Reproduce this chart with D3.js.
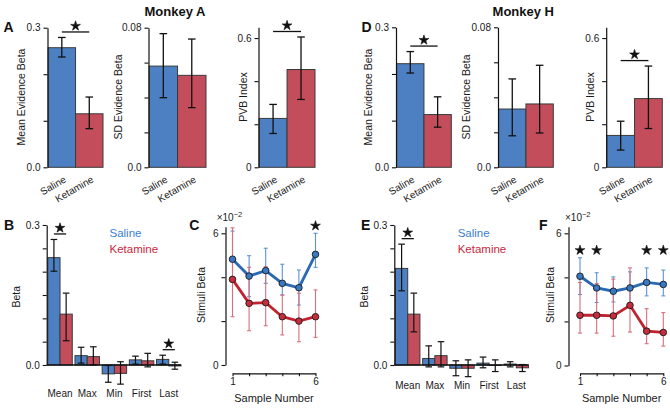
<!DOCTYPE html>
<html>
<head>
<meta charset="utf-8">
<script src="https://cdn.jsdelivr.net/npm/d3@7"></script>
<style>
body { margin: 0; background: #fff; }
text { font-family: "Liberation Sans", Arial, sans-serif; fill: #1a1a1a; }
</style>
</head>
<body>
<div class="container"></div>
<script>
// 数据
var conds = ["Saline", "Ketamine"];

// Monkey A top row
var meanEvA = [0.257, 0.115], meanEvA_lo = [0.237, 0.083], meanEvA_hi = [0.279, 0.151];
var sdEvA = [0.058, 0.0527], sdEvA_lo = [0.0399, 0.0342], sdEvA_hi = [0.0766, 0.0735];
var pvbA = [0.227, 0.454], pvbA_lo = [0.157, 0.315], pvbA_hi = [0.292, 0.605];
var topSigA = [true, false, true];

// Monkey H top row
var meanEvH = [0.222, 0.113], meanEvH_lo = [0.202, 0.086], meanEvH_hi = [0.248, 0.151];
var sdEvH = [0.0333, 0.0362], sdEvH_lo = [0.018, 0.0196], sdEvH_hi = [0.0505, 0.0583];
var pvbH = [0.148, 0.319], pvbH_lo = [0.080, 0.180], pvbH_hi = [0.214, 0.470];
var topSigH = [true, false, true];

// regression terms
var terms = ["Mean", "Max", "Min", "First", "Last"];
var betaA_sal = [0.230, 0.020, -0.019, 0.011, 0.012];
var betaA_sal_lo = [0.201, 0.004, -0.037, 0.002, 0.002];
var betaA_sal_hi = [0.269, 0.038, -0.001, 0.019, 0.021];
var betaA_ket = [0.109, 0.018, -0.018, 0.009, -0.002];
var betaA_ket_lo = [0.052, 0.000, -0.041, -0.004, -0.009];
var betaA_ket_hi = [0.154, 0.039, 0.007, 0.025, 0.006];
var betaSigA = [true, false, false, false, true];

var betaH_sal = [0.207, 0.014, -0.007, 0.004, 0.002];
var betaH_sal_lo = [0.159, -0.004, -0.023, -0.006, -0.004];
var betaH_sal_hi = [0.259, 0.041, 0.009, 0.017, 0.007];
var betaH_ket = [0.109, 0.020, -0.007, -0.001, -0.006];
var betaH_ket_lo = [0.071, -0.004, -0.025, -0.014, -0.014];
var betaH_ket_hi = [0.154, 0.050, 0.011, 0.011, 0.001];
var betaSigH = [true, false, false, false, false];

// stimuli beta (x1e-2)
var samples = [1, 2, 3, 4, 5, 6];
var stimA_sal = [4.82, 4.05, 4.30, 3.72, 3.52, 5.04];
var stimA_sal_lo = [3.85, 3.11, 3.72, 3.19, 2.73, 4.45];
var stimA_sal_hi = [6.10, 4.98, 5.32, 4.59, 4.33, 6.00];
var stimA_ket = [3.90, 2.81, 2.84, 2.20, 2.00, 2.20];
var stimA_ket_lo = [2.20, 1.56, 1.79, 1.37, 1.06, 1.26];
var stimA_ket_hi = [6.25, 4.45, 4.48, 3.19, 3.27, 3.42];
var stimSigA = [false, false, false, false, false, true];

var stimH_sal = [4.05, 3.52, 3.37, 3.52, 3.77, 3.68];
var stimH_sal_lo = [3.22, 2.86, 2.88, 2.81, 3.16, 3.16];
var stimH_sal_hi = [4.89, 4.21, 4.02, 4.25, 4.43, 4.33];
var stimH_ket = [2.28, 2.28, 2.25, 2.73, 1.56, 1.50];
var stimH_ket_lo = [1.47, 1.47, 1.33, 1.52, 0.99, 0.88];
var stimH_ket_hi = [3.77, 3.72, 3.92, 4.43, 2.58, 2.40];
var stimSigH = [true, true, false, false, true, true];

// 颜色
var barFill = ["#4c80c3", "#c44d5b"];
var lineCol = ["#2a69b3", "#c0222f"];
var dotFill = ["#3a78c2", "#c62c3c"];
var errCol = ["#5f92d3", "#da6f7b"];
var legendCol = ["#3a7ed0", "#c9283c"];

var svg = d3.select(".container").append("svg")
            .attr("width", 670).attr("height", 409);

var star = d3.symbol().type(d3.symbolStar).size(30);

function drawStar(x, y) {
  svg.append("path").attr("d", star)
     .attr("transform", "translate(" + x + "," + y + ")")
     .attr("fill", "#111").attr("stroke", "#111").attr("stroke-width", 0.6);
}

function sigBar(xa, xb, y) {
  svg.append("line").attr("x1", xa).attr("x2", xb).attr("y1", y).attr("y2", y)
     .attr("stroke", "#111").attr("stroke-width", 1.3);
  drawStar((xa + xb) / 2, y - 6);
}

function errBar(g, x, y1, y2, cap, col, w) {
  g.append("line").attr("x1", x).attr("x2", x).attr("y1", y1).attr("y2", y2)
   .attr("stroke", col).attr("stroke-width", w);
  [y1, y2].forEach(function(yy) {
    g.append("line").attr("x1", x - cap).attr("x2", x + cap).attr("y1", yy).attr("y2", yy)
     .attr("stroke", col).attr("stroke-width", w);
  });
}

function styleAxis(g) {
  g.select(".domain").attr("stroke", "#111").attr("stroke-width", 1.2);
  g.selectAll(".tick line").attr("stroke", "#111").attr("stroke-width", 1.1);
  g.selectAll(".tick text").attr("font-size", "10px").attr("fill", "#333")
   .style("font-family", "'Liberation Sans', Arial, sans-serif");
}

function ylabel(x, y, txt, size) {
  svg.append("text").attr("transform", "translate(" + x + "," + y + ") rotate(-90)")
     .attr("text-anchor", "middle").attr("dy", "0.35em")
     .attr("font-size", size || "10.5px").text(txt);
}

// 两组柱状图
function barPanel(p) {
  var x = d3.scaleBand().domain(conds).range([p.x0 + 0.6, p.x1]);
  var y = d3.scaleLinear().domain([0, p.ymax]).range([167.3, p.yTop]);
  var g = svg.append("g");
  g.selectAll("rect").data(p.vals).enter().append("rect")
   .attr("x", function(d, i) { return x(conds[i]); })
   .attr("width", x.bandwidth())
   .attr("y", function(d) { return y(d); })
   .attr("height", function(d) { return y(0) - y(d); })
   .attr("fill", function(d, i) { return barFill[i]; })
   .attr("stroke", "#3a3a3a").attr("stroke-width", 1);
  p.vals.forEach(function(d, i) {
    errBar(g, x(conds[i]) + x.bandwidth() / 2, y(p.lo[i]), y(p.hi[i]), 3.8, "#111", 1.3);
  });
  var ax = svg.append("g").attr("transform", "translate(" + p.x0 + ",0)")
    .call(d3.axisLeft(y).tickValues(p.ticks).tickSize(4).tickSizeOuter(0)
      .tickFormat(function(d, i) { return p.tl[i]; }));
  styleAxis(ax);
  conds.forEach(function(c) {
    svg.append("text")
       .attr("transform", "translate(" + (x(c) + x.bandwidth() / 2 + 5) + ",181.5) rotate(-30)")
       .attr("text-anchor", "end").attr("font-size", "10px").text(c);
  });
  ylabel(p.ylx, 97, p.ylab);
  if (p.sig) {
    var c0 = x(conds[0]) + x.bandwidth() / 2, c1 = x(conds[1]) + x.bandwidth() / 2;
    sigBar(c0, c1, y(d3.max(p.hi)) - 5.5);
  }
}

// 分组柱状图
function groupPanel(p) {
  var x = d3.scaleBand().domain(terms).range([p.x0, p.x1]).paddingInner(0.1);
  var xi = d3.scaleBand().domain(conds).range([0, x.bandwidth()]);
  var y = d3.scaleLinear().domain([0, 0.3]).range([365, 225]);
  var g = svg.append("g");
  var series = [[p.sal, p.sal_lo, p.sal_hi], [p.ket, p.ket_lo, p.ket_hi]];
  series.forEach(function(s, k) {
    g.selectAll(".b" + k).data(s[0]).enter().append("rect")
     .attr("x", function(d, i) { return x(terms[i]) + xi(conds[k]); })
     .attr("width", xi.bandwidth())
     .attr("y", function(d) { return y(Math.max(0, d)); })
     .attr("height", function(d) { return Math.abs(y(d) - y(0)); })
     .attr("fill", barFill[k]).attr("stroke", "#3a3a3a").attr("stroke-width", 1);
  });
  g.append("line").attr("x1", p.axisX).attr("x2", p.x1).attr("y1", y(0)).attr("y2", y(0))
   .attr("stroke", "#111").attr("stroke-width", 1.3);
  series.forEach(function(s, k) {
    s[0].forEach(function(d, i) {
      errBar(g, x(terms[i]) + xi(conds[k]) + xi.bandwidth() / 2, y(s[1][i]), y(s[2][i]), 3.3, "#111", 1.2);
    });
  });
  var ax = svg.append("g").attr("transform", "translate(" + p.axisX + ",0)")
    .call(d3.axisLeft(y).tickValues([0, 0.05, 0.1, 0.15, 0.2, 0.25, 0.3]).tickSize(4).tickSizeOuter(0)
      .tickFormat(function(d) { return d === 0 ? "0.0" : (d === 0.3 ? "0.3" : ""); }));
  styleAxis(ax);
  terms.forEach(function(t) {
    svg.append("text").attr("x", x(t) + x.bandwidth() / 2).attr("y", p.labY)
       .attr("text-anchor", "middle").attr("dy", "0.35em").attr("font-size", "10px").text(t);
  });
  p.sig.forEach(function(s, i) {
    if (!s) return;
    var c0 = x(terms[i]) + xi(conds[0]) + xi.bandwidth() / 2;
    var c1 = x(terms[i]) + xi(conds[1]) + xi.bandwidth() / 2;
    sigBar(c0, c1, y(Math.max(p.sal_hi[i], p.ket_hi[i])) - 5.5);
  });
  conds.forEach(function(c, k) {
    svg.append("text").attr("x", p.legX).attr("y", 233.3 + k * 16).attr("dy", "0.35em")
       .attr("font-size", "11.5px").style("fill", legendCol[k]).text(c);
  });
  ylabel(p.ylx, 296.7, "Beta");
}

// 折线图
function linePanel(p) {
  var x = d3.scaleLinear().domain([1, 6]).range([p.xa, p.xb]);
  var unit = (p.y0 - 233.3) / 6;
  var y = d3.scaleLinear().domain([0, 6.3]).range([p.y0, p.y0 - 6.3 * unit]);
  var g = svg.append("g");
  var series = [[p.sal, p.sal_lo, p.sal_hi], [p.ket, p.ket_lo, p.ket_hi]];
  series.forEach(function(s, k) {
    s[0].forEach(function(d, i) {
      errBar(g, x(samples[i]), y(s[1][i]), y(s[2][i]), 2, errCol[k], 1.1);
    });
  });
  var line = d3.line().x(function(d, i) { return x(samples[i]); }).y(function(d) { return y(d); });
  series.forEach(function(s, k) {
    g.append("path").attr("d", line(s[0])).attr("fill", "none")
     .attr("stroke", lineCol[k]).attr("stroke-width", 2.8);
  });
  series.forEach(function(s, k) {
    g.selectAll(".d" + k).data(s[0]).enter().append("circle")
     .attr("cx", function(d, i) { return x(samples[i]); })
     .attr("cy", function(d) { return y(d); })
     .attr("r", 3.3).attr("fill", dotFill[k]).attr("stroke", "#1a1a1a").attr("stroke-width", 0.9);
  });
  var ay = svg.append("g").attr("transform", "translate(" + p.axisX + ",0)")
    .call(d3.axisLeft(y).tickValues([0, 2, 4, 6]).tickSize(4).tickSizeOuter(0)
      .tickFormat(function(d) { return d === 0 || d === 6 ? d : ""; }));
  styleAxis(ay);
  var axb = svg.append("g").attr("transform", "translate(0,373.3)")
    .call(d3.axisBottom(x).tickValues(samples).tickSize(3).tickSizeOuter(0)
      .tickFormat(function(d) { return d === 1 || d === 6 ? d : ""; }));
  styleAxis(axb);
  axb.selectAll(".tick text").attr("dy", "0.6em");
  var tx = svg.append("text").attr("x", p.expX).attr("y", 220.5).attr("font-size", "10px");
  tx.append("tspan").text("×10");
  tx.append("tspan").attr("dy", "-4").attr("font-size", "7.5px").text("−2");
  svg.append("text").attr("x", (p.xa + p.xb) / 2).attr("y", 398.3).attr("dy", "0.35em")
     .attr("text-anchor", "middle").attr("font-size", "11px").text("Sample Number");
  ylabel(p.ylx, 295, "Stimuli Beta");
  var top = 1e9;
  p.sig.forEach(function(s, i) {
    if (s) top = Math.min(top, y(Math.max(p.sal_hi[i], p.ket_hi[i])));
  });
  p.sig.forEach(function(s, i) {
    if (s) drawStar(x(samples[i]), top - 7.5);
  });
}

// 标题与面板字母
[["Monkey A", 175], ["Monkey H", 523.3]].forEach(function(t) {
  svg.append("text").attr("x", t[1]).attr("y", 15.5).attr("text-anchor", "middle")
     .attr("font-size", "13px").attr("font-weight", "bold").style("fill", "#111").text(t[0]);
});
[["A", 3.5, 31.5], ["D", 361.5, 31.5], ["B", 4, 229.5], ["C", 189.3, 229.5], ["E", 361, 229.5], ["F", 539, 229.5]]
  .forEach(function(t) {
    svg.append("text").attr("x", t[1]).attr("y", t[2]).attr("font-size", "14px")
       .attr("font-weight", "bold").style("fill", "#111").text(t[0]);
  });

// 上排
barPanel({x0: 47.5, x1: 103, yTop: 27.7, ymax: 0.3, ticks: [0, 0.1, 0.2, 0.3], tl: ["0.0", "", "", "0.3"],
  vals: meanEvA, lo: meanEvA_lo, hi: meanEvA_hi, sig: topSigA[0], ylab: "Mean Evidence Beta", ylx: 21.7});
barPanel({x0: 148.5, x1: 206, yTop: 27.7, ymax: 0.08, ticks: [0, 0.02, 0.04, 0.06, 0.08], tl: ["0.0", "", "", "", "0.08"],
  vals: sdEvA, lo: sdEvA_lo, hi: sdEvA_hi, sig: topSigA[1], ylab: "SD Evidence Beta", ylx: 118.5});
barPanel({x0: 258.5, x1: 315, yTop: 27.3, ymax: 0.65, ticks: [0, 0.2, 0.4, 0.6], tl: ["0", "", "", "0.6"],
  vals: pvbA, lo: pvbA_lo, hi: pvbA_hi, sig: topSigA[2], ylab: "PVB Index", ylx: 243});
barPanel({x0: 396, x1: 451.3, yTop: 27.3, ymax: 0.3, ticks: [0, 0.1, 0.2, 0.3], tl: ["0.0", "", "", "0.3"],
  vals: meanEvH, lo: meanEvH_lo, hi: meanEvH_hi, sig: topSigH[0], ylab: "Mean Evidence Beta", ylx: 368.3});
barPanel({x0: 498, x1: 553.3, yTop: 27.3, ymax: 0.08, ticks: [0, 0.02, 0.04, 0.06, 0.08], tl: ["0.0", "", "", "", "0.08"],
  vals: sdEvH, lo: sdEvH_lo, hi: sdEvH_hi, sig: topSigH[1], ylab: "SD Evidence Beta", ylx: 466.7});
barPanel({x0: 606.2, x1: 662.3, yTop: 27.3, ymax: 0.65, ticks: [0, 0.2, 0.4, 0.6], tl: ["0", "", "", "0.6"],
  vals: pvbH, lo: pvbH_lo, hi: pvbH_hi, sig: topSigH[2], ylab: "PVB Index", ylx: 590});

// 下排
groupPanel({axisX: 46.7, x0: 47.8, x1: 181, labY: 393.3, legX: 109.5, ylx: 16.7,
  sal: betaA_sal, sal_lo: betaA_sal_lo, sal_hi: betaA_sal_hi,
  ket: betaA_ket, ket_lo: betaA_ket_lo, ket_hi: betaA_ket_hi, sig: betaSigA});
groupPanel({axisX: 394.3, x0: 395.5, x1: 528.5, labY: 385.7, legX: 457.7, ylx: 364.3,
  sal: betaH_sal, sal_lo: betaH_sal_lo, sal_hi: betaH_sal_hi,
  ket: betaH_ket, ket_lo: betaH_ket_lo, ket_hi: betaH_ket_hi, sig: betaSigH});
linePanel({axisX: 225.5, xa: 232.5, xb: 315.5, y0: 365, expX: 216.7, ylx: 201.7,
  sal: stimA_sal, sal_lo: stimA_sal_lo, sal_hi: stimA_sal_hi,
  ket: stimA_ket, ket_lo: stimA_ket_lo, ket_hi: stimA_ket_hi, sig: stimSigA});
linePanel({axisX: 568.5, xa: 580, xb: 663.3, y0: 365.5, expX: 565, ylx: 550,
  sal: stimH_sal, sal_lo: stimH_sal_lo, sal_hi: stimH_sal_hi,
  ket: stimH_ket, ket_lo: stimH_ket_lo, ket_hi: stimH_ket_hi, sig: stimSigH});
</script>
</body>
</html>
